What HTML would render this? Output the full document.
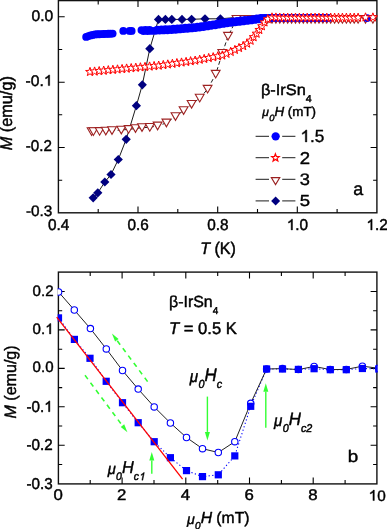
<!DOCTYPE html>
<html><head><meta charset="utf-8"><style>
html,body{margin:0;padding:0;background:#fff;}
body{width:387px;height:529px;overflow:hidden;font-family:"Liberation Sans", sans-serif;}
svg{display:block;will-change:transform;}
text{text-rendering:geometricPrecision;stroke:#000;stroke-width:0.45px;stroke-linejoin:round;}
tspan.g1{fill:none;stroke:none;}
</style></head><body>
<svg width="387" height="529" viewBox="0 0 387 529" font-family='"Liberation Sans", sans-serif' fill="#000">
<clipPath id="ct"><rect x="57.7" y="0" width="319.9" height="213.5"/></clipPath>
<clipPath id="cb"><rect x="57.7" y="271.4" width="319.9" height="213.2"/></clipPath>
<rect x="58.4" y="0.6" width="318.5" height="212.2" fill="none" stroke="#111" stroke-width="1.4"/>
<path d="M98.2 212.8v-3.8 M98.2 0.6v3.8" stroke="#000" stroke-width="1.1"/>
<path d="M138 212.8v-6.3 M138 0.6v6.3" stroke="#000" stroke-width="1.1"/>
<path d="M177.8 212.8v-3.8 M177.8 0.6v3.8" stroke="#000" stroke-width="1.1"/>
<path d="M217.7 212.8v-6.3 M217.7 0.6v6.3" stroke="#000" stroke-width="1.1"/>
<path d="M257.5 212.8v-3.8 M257.5 0.6v3.8" stroke="#000" stroke-width="1.1"/>
<path d="M297.3 212.8v-6.3 M297.3 0.6v6.3" stroke="#000" stroke-width="1.1"/>
<path d="M337.1 212.8v-3.8 M337.1 0.6v3.8" stroke="#000" stroke-width="1.1"/>
<path d="M58.4 16.8h6.3 M376.9 16.8h-6.3" stroke="#000" stroke-width="1.1"/>
<path d="M58.4 49.5h3.8 M376.9 49.5h-3.8" stroke="#000" stroke-width="1.1"/>
<path d="M58.4 82.2h6.3 M376.9 82.2h-6.3" stroke="#000" stroke-width="1.1"/>
<path d="M58.4 114.8h3.8 M376.9 114.8h-3.8" stroke="#000" stroke-width="1.1"/>
<path d="M58.4 147.5h6.3 M376.9 147.5h-6.3" stroke="#000" stroke-width="1.1"/>
<path d="M58.4 180.2h3.8 M376.9 180.2h-3.8" stroke="#000" stroke-width="1.1"/>
<path d="M255.6 136.4H269M282.2 136.4H295.4" stroke="#4a4a4a" stroke-width="1.2"/>
<path d="M255.6 157.7H269M282.2 157.7H295.4" stroke="#4a4a4a" stroke-width="1.2"/>
<path d="M255.6 179.4H269M282.2 179.4H295.4" stroke="#4a4a4a" stroke-width="1.2"/>
<path d="M255.6 200.9H269M282.2 200.9H295.4" stroke="#4a4a4a" stroke-width="1.2"/>
<circle cx="275.65" cy="136.35" r="4.15" fill="#0000ff"/>
<path d="M275.4 153.9L276.4 156.5L279.2 156.6L277.1 158.4L277.8 161L275.4 159.5L273.1 161L273.8 158.4L271.7 156.6L274.5 156.5Z" fill="#fff" stroke="#ff0000" stroke-width="1.25"/>
<path d="M271.3 177.6L279.8 177.6L275.55 184.6Z" fill="#fff" stroke="#9a2020" stroke-width="1.1"/>
<path d="M275.6 196.6L280.1 201.1L275.6 205.6L271.1 201.1Z" fill="#000080"/>
<rect x="58.4" y="272.1" width="318.5" height="211.8" fill="none" stroke="#111" stroke-width="1.4"/>
<path d="M90.2 483.9v-3.8 M90.2 272.1v3.8" stroke="#000" stroke-width="1.1"/>
<path d="M122.1 483.9v-6.3 M122.1 272.1v6.3" stroke="#000" stroke-width="1.1"/>
<path d="M154 483.9v-3.8 M154 272.1v3.8" stroke="#000" stroke-width="1.1"/>
<path d="M185.8 483.9v-6.3 M185.8 272.1v6.3" stroke="#000" stroke-width="1.1"/>
<path d="M217.7 483.9v-3.8 M217.7 272.1v3.8" stroke="#000" stroke-width="1.1"/>
<path d="M249.5 483.9v-6.3 M249.5 272.1v6.3" stroke="#000" stroke-width="1.1"/>
<path d="M281.4 483.9v-3.8 M281.4 272.1v3.8" stroke="#000" stroke-width="1.1"/>
<path d="M313.2 483.9v-6.3 M313.2 272.1v6.3" stroke="#000" stroke-width="1.1"/>
<path d="M345.1 483.9v-3.8 M345.1 272.1v3.8" stroke="#000" stroke-width="1.1"/>
<path d="M58.4 291.5h6.3 M376.9 291.5h-6.3" stroke="#000" stroke-width="1.1"/>
<path d="M58.4 310.7h3.8 M376.9 310.7h-3.8" stroke="#000" stroke-width="1.1"/>
<path d="M58.4 329.9h6.3 M376.9 329.9h-6.3" stroke="#000" stroke-width="1.1"/>
<path d="M58.4 349.2h3.8 M376.9 349.2h-3.8" stroke="#000" stroke-width="1.1"/>
<path d="M58.4 368.4h6.3 M376.9 368.4h-6.3" stroke="#000" stroke-width="1.1"/>
<path d="M58.4 387.6h3.8 M376.9 387.6h-3.8" stroke="#000" stroke-width="1.1"/>
<path d="M58.4 406.8h6.3 M376.9 406.8h-6.3" stroke="#000" stroke-width="1.1"/>
<path d="M58.4 426h3.8 M376.9 426h-3.8" stroke="#000" stroke-width="1.1"/>
<path d="M58.4 445.3h6.3 M376.9 445.3h-6.3" stroke="#000" stroke-width="1.1"/>
<path d="M58.4 464.5h3.8 M376.9 464.5h-3.8" stroke="#000" stroke-width="1.1"/>
<g clip-path="url(#ct)">
<polyline points="93.2,197.8 97.8,192.8 104.8,182 111,174.5 118.3,159.5 126.2,139.3 136.4,105.7 142.3,84.8 149.8,48.7 158.5,19.4 165.4,19.4 171.8,19.4 182,19.4 191.6,19.3 205,18.8 220.4,18.8 232,17.8 377,17.5" fill="none" stroke="#000" stroke-width="0.9"/>
<path d="M93.2 193.2L97.8 197.8L93.2 202.4L88.6 197.8Z" fill="#000080"/>
<path d="M97.8 188.2L102.4 192.8L97.8 197.4L93.2 192.8Z" fill="#000080"/>
<path d="M104.8 177.4L109.4 182L104.8 186.6L100.2 182Z" fill="#000080"/>
<path d="M111 169.9L115.6 174.5L111 179.1L106.4 174.5Z" fill="#000080"/>
<path d="M118.3 154.9L122.9 159.5L118.3 164.1L113.7 159.5Z" fill="#000080"/>
<path d="M126.2 134.7L130.8 139.3L126.2 143.9L121.6 139.3Z" fill="#000080"/>
<path d="M136.4 101.1L141 105.7L136.4 110.3L131.8 105.7Z" fill="#000080"/>
<path d="M142.3 80.2L146.9 84.8L142.3 89.4L137.8 84.8Z" fill="#000080"/>
<path d="M149.8 44.1L154.4 48.7L149.8 53.3L145.2 48.7Z" fill="#000080"/>
<path d="M158.5 14.8L163.1 19.4L158.5 24L153.9 19.4Z" fill="#000080"/>
<path d="M165.4 14.8L170 19.4L165.4 24L160.8 19.4Z" fill="#000080"/>
<path d="M171.8 14.8L176.4 19.4L171.8 24L167.2 19.4Z" fill="#000080"/>
<path d="M182 14.8L186.6 19.4L182 24L177.4 19.4Z" fill="#000080"/>
<path d="M191.6 14.7L196.2 19.3L191.6 23.9L187 19.3Z" fill="#000080"/>
<path d="M205 14.2L209.6 18.8L205 23.4L200.4 18.8Z" fill="#000080"/>
<path d="M220.4 14.2L225 18.8L220.4 23.4L215.8 18.8Z" fill="#000080"/>
<polyline points="91.6,131.7 93.4,131.7 99.6,131.4 105.8,131 112,130.5 121.3,130 128.6,129.4 135.5,128.5 142,127.6 149.8,127.3 157.6,125.9 166.4,122.9 175.5,116.5 183.6,110.5 191.6,104.3 199.7,98.1 207.6,89.2 215.7,74.2 222.3,53.4 228,36.2 236.5,19.4 244.5,19.3 252.5,19.3 377,19.3" fill="none" stroke="#000" stroke-width="0.9" stroke-dasharray="4 2.5"/>
<path d="M87.2 127.8L96 127.8L91.6 135.5Z" fill="#fff" stroke="#9e2222" stroke-width="1.1"/>
<path d="M89 127.8L97.8 127.8L93.4 135.5Z" fill="#fff" stroke="#9e2222" stroke-width="1.1"/>
<path d="M95.2 127.6L104 127.6L99.6 135.2Z" fill="#fff" stroke="#9e2222" stroke-width="1.1"/>
<path d="M101.4 127.2L110.2 127.2L105.8 134.8Z" fill="#fff" stroke="#9e2222" stroke-width="1.1"/>
<path d="M107.6 126.7L116.4 126.7L112 134.3Z" fill="#fff" stroke="#9e2222" stroke-width="1.1"/>
<path d="M116.9 126.2L125.7 126.2L121.3 133.8Z" fill="#fff" stroke="#9e2222" stroke-width="1.1"/>
<path d="M124.2 125.6L133 125.6L128.6 133.2Z" fill="#fff" stroke="#9e2222" stroke-width="1.1"/>
<path d="M131.1 124.7L139.9 124.7L135.5 132.3Z" fill="#fff" stroke="#9e2222" stroke-width="1.1"/>
<path d="M137.6 123.8L146.4 123.8L142 131.4Z" fill="#fff" stroke="#9e2222" stroke-width="1.1"/>
<path d="M145.4 123.5L154.2 123.5L149.8 131.2Z" fill="#fff" stroke="#9e2222" stroke-width="1.1"/>
<path d="M153.2 122.1L162 122.1L157.6 129.8Z" fill="#fff" stroke="#9e2222" stroke-width="1.1"/>
<path d="M162 119.1L170.8 119.1L166.4 126.8Z" fill="#fff" stroke="#9e2222" stroke-width="1.1"/>
<path d="M171.1 112.7L179.9 112.7L175.5 120.3Z" fill="#fff" stroke="#9e2222" stroke-width="1.1"/>
<path d="M179.2 106.7L188 106.7L183.6 114.3Z" fill="#fff" stroke="#9e2222" stroke-width="1.1"/>
<path d="M187.2 100.5L196 100.5L191.6 108.1Z" fill="#fff" stroke="#9e2222" stroke-width="1.1"/>
<path d="M195.3 94.2L204.1 94.2L199.7 101.9Z" fill="#fff" stroke="#9e2222" stroke-width="1.1"/>
<path d="M203.2 85.4L212 85.4L207.6 93Z" fill="#fff" stroke="#9e2222" stroke-width="1.1"/>
<path d="M211.3 70.4L220.1 70.4L215.7 78Z" fill="#fff" stroke="#9e2222" stroke-width="1.1"/>
<path d="M217.9 49.5L226.7 49.5L222.3 57.2Z" fill="#fff" stroke="#9e2222" stroke-width="1.1"/>
<path d="M223.6 32.4L232.4 32.4L228 40.1Z" fill="#fff" stroke="#9e2222" stroke-width="1.1"/>
<path d="M232.1 15.5L240.9 15.5L236.5 23.2Z" fill="#fff" stroke="#9e2222" stroke-width="1.1"/>
<path d="M240.1 15.5L248.9 15.5L244.5 23.2Z" fill="#fff" stroke="#9e2222" stroke-width="1.1"/>
<path d="M248.1 15.5L256.9 15.5L252.5 23.2Z" fill="#fff" stroke="#9e2222" stroke-width="1.1"/>
<path d="M260.1 15.5L268.9 15.5L264.5 23.2Z" fill="#fff" stroke="#9e2222" stroke-width="1.1"/>
<path d="M263.3 15.5L272.1 15.5L267.7 23.2Z" fill="#fff" stroke="#9e2222" stroke-width="1.1"/>
<path d="M267.6 15.5L276.4 15.5L272 23.2Z" fill="#fff" stroke="#9e2222" stroke-width="1.1"/>
<path d="M271.5 15.5L280.3 15.5L275.9 23.2Z" fill="#fff" stroke="#9e2222" stroke-width="1.1"/>
<path d="M275.4 15.5L284.2 15.5L279.8 23.2Z" fill="#fff" stroke="#9e2222" stroke-width="1.1"/>
<path d="M279.3 15.5L288.1 15.5L283.7 23.2Z" fill="#fff" stroke="#9e2222" stroke-width="1.1"/>
<path d="M283.3 15.5L292.1 15.5L287.7 23.2Z" fill="#fff" stroke="#9e2222" stroke-width="1.1"/>
<path d="M287.2 15.5L296 15.5L291.6 23.2Z" fill="#fff" stroke="#9e2222" stroke-width="1.1"/>
<path d="M291.1 15.5L299.9 15.5L295.5 23.2Z" fill="#fff" stroke="#9e2222" stroke-width="1.1"/>
<path d="M295 15.5L303.8 15.5L299.4 23.2Z" fill="#fff" stroke="#9e2222" stroke-width="1.1"/>
<path d="M298.9 15.5L307.7 15.5L303.3 23.2Z" fill="#fff" stroke="#9e2222" stroke-width="1.1"/>
<path d="M302.8 15.5L311.6 15.5L307.2 23.2Z" fill="#fff" stroke="#9e2222" stroke-width="1.1"/>
<path d="M306.7 15.5L315.5 15.5L311.1 23.2Z" fill="#fff" stroke="#9e2222" stroke-width="1.1"/>
<path d="M310.7 15.5L319.4 15.5L315.1 23.2Z" fill="#fff" stroke="#9e2222" stroke-width="1.1"/>
<path d="M314.6 15.5L323.4 15.5L319 23.2Z" fill="#fff" stroke="#9e2222" stroke-width="1.1"/>
<path d="M318.5 15.5L327.3 15.5L322.9 23.2Z" fill="#fff" stroke="#9e2222" stroke-width="1.1"/>
<path d="M322.4 15.5L331.2 15.5L326.8 23.2Z" fill="#fff" stroke="#9e2222" stroke-width="1.1"/>
<path d="M326.3 15.5L335.1 15.5L330.7 23.2Z" fill="#fff" stroke="#9e2222" stroke-width="1.1"/>
<path d="M330.2 15.5L339 15.5L334.6 23.2Z" fill="#fff" stroke="#9e2222" stroke-width="1.1"/>
<path d="M334.1 15.5L342.9 15.5L338.5 23.2Z" fill="#fff" stroke="#9e2222" stroke-width="1.1"/>
<path d="M338 15.5L346.8 15.5L342.4 23.2Z" fill="#fff" stroke="#9e2222" stroke-width="1.1"/>
<path d="M342 15.5L350.8 15.5L346.4 23.2Z" fill="#fff" stroke="#9e2222" stroke-width="1.1"/>
<path d="M345.9 15.5L354.7 15.5L350.3 23.2Z" fill="#fff" stroke="#9e2222" stroke-width="1.1"/>
<path d="M349.8 15.5L358.6 15.5L354.2 23.2Z" fill="#fff" stroke="#9e2222" stroke-width="1.1"/>
<path d="M353.7 15.5L362.5 15.5L358.1 23.2Z" fill="#fff" stroke="#9e2222" stroke-width="1.1"/>
<path d="M361.1 15.5L369.9 15.5L365.5 23.2Z" fill="#fff" stroke="#9e2222" stroke-width="1.1"/>
<path d="M368.5 15.5L377.3 15.5L372.9 23.2Z" fill="#fff" stroke="#9e2222" stroke-width="1.1"/>
<circle cx="86.2" cy="36.9" r="3.95" fill="#0000ff"/>
<circle cx="88.4" cy="36.1" r="3.95" fill="#0000ff"/>
<circle cx="90.6" cy="35.4" r="3.95" fill="#0000ff"/>
<circle cx="92.8" cy="34.9" r="3.95" fill="#0000ff"/>
<circle cx="95" cy="34.4" r="3.95" fill="#0000ff"/>
<circle cx="97.2" cy="34.3" r="3.95" fill="#0000ff"/>
<circle cx="99.4" cy="34.2" r="3.95" fill="#0000ff"/>
<circle cx="101.6" cy="34.1" r="3.95" fill="#0000ff"/>
<circle cx="103.8" cy="34" r="3.95" fill="#0000ff"/>
<circle cx="106" cy="33.9" r="3.95" fill="#0000ff"/>
<circle cx="108.2" cy="33.8" r="3.95" fill="#0000ff"/>
<circle cx="110.4" cy="33.7" r="3.95" fill="#0000ff"/>
<circle cx="112.6" cy="33.6" r="3.95" fill="#0000ff"/>
<circle cx="123.3" cy="30.9" r="3.95" fill="#0000ff"/>
<circle cx="129.6" cy="30.9" r="3.95" fill="#0000ff"/>
<circle cx="131.6" cy="30.9" r="3.95" fill="#0000ff"/>
<circle cx="141.5" cy="30.1" r="3.95" fill="#0000ff"/>
<circle cx="143.5" cy="31.1" r="3.95" fill="#0000ff"/>
<circle cx="145.5" cy="30" r="3.95" fill="#0000ff"/>
<circle cx="147.5" cy="31" r="3.95" fill="#0000ff"/>
<circle cx="149.5" cy="29.9" r="3.95" fill="#0000ff"/>
<circle cx="151.5" cy="30.9" r="3.95" fill="#0000ff"/>
<circle cx="155.5" cy="30.7" r="3.95" fill="#0000ff"/>
<circle cx="157.5" cy="29.6" r="3.95" fill="#0000ff"/>
<circle cx="159.5" cy="30.6" r="3.95" fill="#0000ff"/>
<circle cx="161.5" cy="29.4" r="3.95" fill="#0000ff"/>
<circle cx="163.5" cy="30.4" r="3.95" fill="#0000ff"/>
<circle cx="165.5" cy="29.2" r="3.95" fill="#0000ff"/>
<circle cx="167.5" cy="30.3" r="3.95" fill="#0000ff"/>
<circle cx="169.5" cy="29.1" r="3.95" fill="#0000ff"/>
<circle cx="171.5" cy="30" r="3.95" fill="#0000ff"/>
<circle cx="173.5" cy="28.8" r="3.95" fill="#0000ff"/>
<circle cx="175.5" cy="29.7" r="3.95" fill="#0000ff"/>
<circle cx="177.5" cy="28.5" r="3.95" fill="#0000ff"/>
<circle cx="179.5" cy="29.4" r="3.95" fill="#0000ff"/>
<circle cx="181.4" cy="28.1" r="3.95" fill="#0000ff"/>
<circle cx="183.4" cy="29.1" r="3.95" fill="#0000ff"/>
<circle cx="185.4" cy="27.8" r="3.95" fill="#0000ff"/>
<circle cx="187.4" cy="28.8" r="3.95" fill="#0000ff"/>
<circle cx="189.4" cy="27.5" r="3.95" fill="#0000ff"/>
<circle cx="191.4" cy="28.4" r="3.95" fill="#0000ff"/>
<circle cx="193.4" cy="27.2" r="3.95" fill="#0000ff"/>
<circle cx="195.4" cy="28.1" r="3.95" fill="#0000ff"/>
<circle cx="197.4" cy="26.8" r="3.95" fill="#0000ff"/>
<circle cx="199.4" cy="27.6" r="3.95" fill="#0000ff"/>
<circle cx="201.3" cy="26.2" r="3.95" fill="#0000ff"/>
<circle cx="203.3" cy="27" r="3.95" fill="#0000ff"/>
<circle cx="205.3" cy="25.6" r="3.95" fill="#0000ff"/>
<circle cx="207.3" cy="26.4" r="3.95" fill="#0000ff"/>
<circle cx="209.3" cy="25" r="3.95" fill="#0000ff"/>
<circle cx="211.2" cy="25.8" r="3.95" fill="#0000ff"/>
<circle cx="213.2" cy="24.4" r="3.95" fill="#0000ff"/>
<circle cx="215.2" cy="25.2" r="3.95" fill="#0000ff"/>
<circle cx="217.2" cy="23.8" r="3.95" fill="#0000ff"/>
<circle cx="219.1" cy="24.5" r="3.95" fill="#0000ff"/>
<circle cx="221.1" cy="23.1" r="3.95" fill="#0000ff"/>
<circle cx="223.1" cy="23.9" r="3.95" fill="#0000ff"/>
<circle cx="225.1" cy="22.5" r="3.95" fill="#0000ff"/>
<circle cx="227" cy="23.3" r="3.95" fill="#0000ff"/>
<circle cx="229" cy="21.9" r="3.95" fill="#0000ff"/>
<circle cx="231" cy="22.8" r="3.95" fill="#0000ff"/>
<circle cx="233" cy="21.5" r="3.95" fill="#0000ff"/>
<circle cx="235" cy="22.3" r="3.95" fill="#0000ff"/>
<circle cx="237" cy="21" r="3.95" fill="#0000ff"/>
<circle cx="238.9" cy="21.9" r="3.95" fill="#0000ff"/>
<circle cx="240.9" cy="20.5" r="3.95" fill="#0000ff"/>
<circle cx="242.9" cy="21.4" r="3.95" fill="#0000ff"/>
<circle cx="244.9" cy="20" r="3.95" fill="#0000ff"/>
<circle cx="246.9" cy="20.9" r="3.95" fill="#0000ff"/>
<circle cx="248.9" cy="19.6" r="3.95" fill="#0000ff"/>
<circle cx="250.9" cy="20.4" r="3.95" fill="#0000ff"/>
<circle cx="252.8" cy="19.1" r="3.95" fill="#0000ff"/>
<circle cx="254.8" cy="19.9" r="3.95" fill="#0000ff"/>
<circle cx="256.8" cy="18.5" r="3.95" fill="#0000ff"/>
<circle cx="258.8" cy="19.3" r="3.95" fill="#0000ff"/>
<circle cx="260.8" cy="17.9" r="3.95" fill="#0000ff"/>
<circle cx="262.7" cy="18.2" r="3.95" fill="#0000ff"/>
<circle cx="264.7" cy="17.9" r="3.95" fill="#0000ff"/>
<circle cx="266.7" cy="17.9" r="3.95" fill="#0000ff"/>
<circle cx="268.7" cy="17.9" r="3.95" fill="#0000ff"/>
<circle cx="270.7" cy="17.9" r="3.95" fill="#0000ff"/>
<circle cx="272.7" cy="17.9" r="3.95" fill="#0000ff"/>
<circle cx="274.7" cy="17.9" r="3.95" fill="#0000ff"/>
<circle cx="276.7" cy="17.9" r="3.95" fill="#0000ff"/>
<circle cx="278.7" cy="17.9" r="3.95" fill="#0000ff"/>
<circle cx="280.7" cy="17.9" r="3.95" fill="#0000ff"/>
<circle cx="282.7" cy="17.9" r="3.95" fill="#0000ff"/>
<circle cx="284.7" cy="17.9" r="3.95" fill="#0000ff"/>
<circle cx="286.7" cy="17.9" r="3.95" fill="#0000ff"/>
<circle cx="288.7" cy="17.9" r="3.95" fill="#0000ff"/>
<circle cx="290.7" cy="17.9" r="3.95" fill="#0000ff"/>
<circle cx="292.7" cy="17.9" r="3.95" fill="#0000ff"/>
<circle cx="294.7" cy="17.9" r="3.95" fill="#0000ff"/>
<circle cx="296.7" cy="17.9" r="3.95" fill="#0000ff"/>
<circle cx="298.7" cy="17.9" r="3.95" fill="#0000ff"/>
<circle cx="300.7" cy="17.9" r="3.95" fill="#0000ff"/>
<circle cx="302.7" cy="17.9" r="3.95" fill="#0000ff"/>
<circle cx="304.7" cy="17.9" r="3.95" fill="#0000ff"/>
<circle cx="306.7" cy="17.9" r="3.95" fill="#0000ff"/>
<circle cx="308.7" cy="17.9" r="3.95" fill="#0000ff"/>
<circle cx="310.7" cy="17.9" r="3.95" fill="#0000ff"/>
<circle cx="312.7" cy="17.9" r="3.95" fill="#0000ff"/>
<circle cx="314.7" cy="17.9" r="3.95" fill="#0000ff"/>
<circle cx="316.7" cy="17.9" r="3.95" fill="#0000ff"/>
<circle cx="318.7" cy="17.9" r="3.95" fill="#0000ff"/>
<circle cx="320.7" cy="17.9" r="3.95" fill="#0000ff"/>
<circle cx="322.7" cy="17.9" r="3.95" fill="#0000ff"/>
<circle cx="324.7" cy="17.9" r="3.95" fill="#0000ff"/>
<circle cx="326.7" cy="17.9" r="3.95" fill="#0000ff"/>
<circle cx="328.7" cy="17.9" r="3.95" fill="#0000ff"/>
<circle cx="367.1" cy="18.1" r="3.95" fill="#0000ff"/>
<path d="M90 67.3L91.1 70.4L94.4 70.5L91.8 72.5L92.7 75.6L90 73.8L87.3 75.6L88.2 72.5L85.6 70.5L88.9 70.4Z" fill="#fff" stroke="#ff0000" stroke-width="1"/>
<path d="M94.6 66.9L95.7 69.9L99 70.1L96.4 72.1L97.3 75.2L94.6 73.4L91.9 75.2L92.8 72.1L90.2 70.1L93.5 69.9Z" fill="#fff" stroke="#ff0000" stroke-width="1"/>
<path d="M99.2 66.5L100.3 69.5L103.5 69.6L101 71.6L101.9 74.8L99.2 73L96.5 74.8L97.4 71.6L94.8 69.6L98 69.5Z" fill="#fff" stroke="#ff0000" stroke-width="1"/>
<path d="M103.7 66L104.9 69.1L108.1 69.2L105.5 71.2L106.4 74.4L103.7 72.5L101 74.4L101.9 71.2L99.4 69.2L102.6 69.1Z" fill="#fff" stroke="#ff0000" stroke-width="1"/>
<path d="M108.3 65.6L109.4 68.7L112.7 68.8L110.1 70.8L111 73.9L108.3 72.1L105.6 73.9L106.5 70.8L103.9 68.8L107.2 68.7Z" fill="#fff" stroke="#ff0000" stroke-width="1"/>
<path d="M112.9 65.2L114 68.3L117.3 68.4L114.7 70.4L115.6 73.5L112.9 71.7L110.2 73.5L111.1 70.4L108.5 68.4L111.8 68.3Z" fill="#fff" stroke="#ff0000" stroke-width="1"/>
<path d="M117.5 64.8L118.6 67.8L121.9 68L119.3 70L120.2 73.1L117.5 71.3L114.8 73.1L115.7 70L113.1 68L116.4 67.8Z" fill="#fff" stroke="#ff0000" stroke-width="1"/>
<path d="M122.1 64.4L123.2 67.4L126.4 67.5L123.9 69.6L124.8 72.7L122.1 70.9L119.4 72.7L120.3 69.6L117.7 67.5L120.9 67.4Z" fill="#fff" stroke="#ff0000" stroke-width="1"/>
<path d="M126.6 63.9L127.8 67L131 67.1L128.5 69.1L129.4 72.3L126.6 70.4L123.9 72.3L124.8 69.1L122.3 67.1L125.5 67Z" fill="#fff" stroke="#ff0000" stroke-width="1"/>
<path d="M131.2 63.5L132.3 66.6L135.6 66.7L133 68.7L133.9 71.9L131.2 70L128.5 71.9L129.4 68.7L126.9 66.7L130.1 66.6Z" fill="#fff" stroke="#ff0000" stroke-width="1"/>
<path d="M135.8 63.1L136.9 66.2L140.2 66.3L137.6 68.3L138.5 71.4L135.8 69.6L133.1 71.4L134 68.3L131.4 66.3L134.7 66.2Z" fill="#fff" stroke="#ff0000" stroke-width="1"/>
<path d="M140.4 62.7L141.5 65.8L144.8 65.9L142.2 67.9L143.1 71L140.4 69.2L137.7 71L138.6 67.9L136 65.9L139.3 65.8Z" fill="#fff" stroke="#ff0000" stroke-width="1"/>
<path d="M145 62.3L146.1 65.3L149.3 65.5L146.8 67.5L147.7 70.6L145 68.8L142.3 70.6L143.2 67.5L140.6 65.5L143.9 65.3Z" fill="#fff" stroke="#ff0000" stroke-width="1"/>
<path d="M149.6 61.9L150.7 64.9L153.9 65L151.4 67L152.3 70.2L149.6 68.4L146.8 70.2L147.7 67L145.2 65L148.4 64.9Z" fill="#fff" stroke="#ff0000" stroke-width="1"/>
<path d="M154.1 61.4L155.2 64.5L158.5 64.6L155.9 66.6L156.8 69.8L154.1 67.9L151.4 69.8L152.3 66.6L149.8 64.6L153 64.5Z" fill="#fff" stroke="#ff0000" stroke-width="1"/>
<path d="M158.7 61L159.8 64.1L163.1 64.2L160.5 66.2L161.4 69.3L158.7 67.5L156 69.3L156.9 66.2L154.3 64.2L157.6 64.1Z" fill="#fff" stroke="#ff0000" stroke-width="1"/>
<path d="M163.3 60.4L164.4 63.5L167.7 63.6L165.1 65.6L166 68.8L163.3 66.9L160.6 68.8L161.5 65.6L158.9 63.6L162.2 63.5Z" fill="#fff" stroke="#ff0000" stroke-width="1"/>
<path d="M167.8 59.8L168.9 62.9L172.2 63L169.6 65L170.5 68.1L167.8 66.3L165.1 68.1L166 65L163.5 63L166.7 62.9Z" fill="#fff" stroke="#ff0000" stroke-width="1"/>
<path d="M172.4 59.2L173.5 62.2L176.8 62.3L174.2 64.4L175.1 67.5L172.4 65.7L169.7 67.5L170.6 64.4L168 62.3L171.3 62.2Z" fill="#fff" stroke="#ff0000" stroke-width="1"/>
<path d="M176.9 58.5L178.1 61.6L181.3 61.7L178.7 63.7L179.6 66.8L176.9 65L174.2 66.8L175.1 63.7L172.6 61.7L175.8 61.6Z" fill="#fff" stroke="#ff0000" stroke-width="1"/>
<path d="M181.5 57.9L182.6 61L185.9 61.1L183.3 63.1L184.2 66.2L181.5 64.4L178.8 66.2L179.7 63.1L177.1 61.1L180.4 61Z" fill="#fff" stroke="#ff0000" stroke-width="1"/>
<path d="M186.1 57.3L187.2 60.3L190.4 60.4L187.9 62.4L188.8 65.6L186.1 63.8L183.4 65.6L184.2 62.4L181.7 60.4L184.9 60.3Z" fill="#fff" stroke="#ff0000" stroke-width="1"/>
<path d="M190.6 56.6L191.7 59.7L195 59.8L192.4 61.8L193.3 64.9L190.6 63.1L187.9 64.9L188.8 61.8L186.2 59.8L189.5 59.7Z" fill="#fff" stroke="#ff0000" stroke-width="1"/>
<path d="M195.2 56L196.3 59L199.5 59.1L197 61.2L197.9 64.3L195.2 62.5L192.5 64.3L193.4 61.2L190.8 59.1L194 59Z" fill="#fff" stroke="#ff0000" stroke-width="1"/>
<path d="M199.7 55.1L200.8 58.2L204.1 58.3L201.5 60.3L202.4 63.4L199.7 61.6L197 63.4L197.9 60.3L195.3 58.3L198.6 58.2Z" fill="#fff" stroke="#ff0000" stroke-width="1"/>
<path d="M204.2 54.3L205.3 57.3L208.6 57.4L206 59.4L206.9 62.6L204.2 60.8L201.5 62.6L202.4 59.4L199.8 57.4L203.1 57.3Z" fill="#fff" stroke="#ff0000" stroke-width="1"/>
<path d="M208.7 53.4L209.8 56.5L213.1 56.6L210.5 58.6L211.4 61.7L208.7 59.9L206 61.7L206.9 58.6L204.3 56.6L207.6 56.5Z" fill="#fff" stroke="#ff0000" stroke-width="1"/>
<path d="M213.2 52.6L214.4 55.6L217.6 55.7L215.1 57.7L215.9 60.9L213.2 59.1L210.5 60.9L211.4 57.7L208.9 55.7L212.1 55.6Z" fill="#fff" stroke="#ff0000" stroke-width="1"/>
<path d="M217.8 51.7L218.9 54.8L222.1 54.9L219.6 56.9L220.5 60L217.8 58.2L215.1 60L216 56.9L213.4 54.9L216.6 54.8Z" fill="#fff" stroke="#ff0000" stroke-width="1"/>
<path d="M222.3 50.8L223.4 53.9L226.7 54L224.1 56L225 59.2L222.3 57.3L219.6 59.2L220.5 56L217.9 54L221.2 53.9Z" fill="#fff" stroke="#ff0000" stroke-width="1"/>
<path d="M226.5 49.1L227.6 52.2L230.9 52.3L228.3 54.3L229.2 57.5L226.5 55.6L223.8 57.5L224.7 54.3L222.1 52.3L225.4 52.2Z" fill="#fff" stroke="#ff0000" stroke-width="1"/>
<path d="M230.7 47.2L231.8 50.3L235.1 50.4L232.5 52.4L233.4 55.6L230.7 53.7L228 55.6L228.9 52.4L226.3 50.4L229.6 50.3Z" fill="#fff" stroke="#ff0000" stroke-width="1"/>
<path d="M234.9 45.3L236 48.4L239.3 48.5L236.7 50.5L237.6 53.6L234.9 51.8L232.2 53.6L233.1 50.5L230.5 48.5L233.8 48.4Z" fill="#fff" stroke="#ff0000" stroke-width="1"/>
<path d="M239 43.4L240.2 46.4L243.4 46.6L240.9 48.6L241.7 51.7L239 49.9L236.3 51.7L237.2 48.6L234.7 46.6L237.9 46.4Z" fill="#fff" stroke="#ff0000" stroke-width="1"/>
<path d="M243.2 41.5L244.3 44.5L247.6 44.7L245 46.7L245.9 49.8L243.2 48L240.5 49.8L241.4 46.7L238.9 44.7L242.1 44.5Z" fill="#fff" stroke="#ff0000" stroke-width="1"/>
<path d="M247.1 39L248.2 42L251.5 42.2L248.9 44.2L249.8 47.3L247.1 45.5L244.4 47.3L245.3 44.2L242.7 42.2L246 42Z" fill="#fff" stroke="#ff0000" stroke-width="1"/>
<path d="M250.6 36.1L251.7 39.1L255 39.2L252.4 41.3L253.3 44.4L250.6 42.6L247.9 44.4L248.8 41.3L246.2 39.2L249.5 39.1Z" fill="#fff" stroke="#ff0000" stroke-width="1"/>
<path d="M253.6 32.6L254.7 35.6L258 35.7L255.4 37.7L256.3 40.9L253.6 39.1L250.9 40.9L251.8 37.7L249.2 35.7L252.5 35.6Z" fill="#fff" stroke="#ff0000" stroke-width="1"/>
<path d="M256.6 29.1L257.7 32.1L260.9 32.2L258.4 34.2L259.3 37.4L256.6 35.6L253.9 37.4L254.8 34.2L252.2 32.2L255.5 32.1Z" fill="#fff" stroke="#ff0000" stroke-width="1"/>
<path d="M259.3 25.3L260.4 28.4L263.7 28.5L261.1 30.5L262 33.7L259.3 31.8L256.6 33.7L257.5 30.5L254.9 28.5L258.2 28.4Z" fill="#fff" stroke="#ff0000" stroke-width="1"/>
<path d="M261.9 21.6L263 24.6L266.3 24.8L263.7 26.8L264.6 29.9L261.9 28.1L259.2 29.9L260.1 26.8L257.6 24.8L260.8 24.6Z" fill="#fff" stroke="#ff0000" stroke-width="1"/>
<path d="M264.5 17.8L265.6 20.8L268.8 20.9L266.3 22.9L267.2 26.1L264.5 24.3L261.8 26.1L262.7 22.9L260.1 20.9L263.4 20.8Z" fill="#fff" stroke="#ff0000" stroke-width="1"/>
<path d="M267.7 14.5L268.9 17.6L272.1 17.7L269.5 19.7L270.4 22.9L267.7 21L265 22.9L265.9 19.7L263.4 17.7L266.6 17.6Z" fill="#fff" stroke="#ff0000" stroke-width="1"/>
<path d="M272 12.8L273.1 15.9L276.4 16L273.8 18L274.7 21.2L272 19.3L269.3 21.2L270.2 18L267.6 16L270.9 15.9Z" fill="#fff" stroke="#ff0000" stroke-width="1"/>
<path d="M275.9 12.9L277 16L280.3 16.1L277.7 18.1L278.6 21.3L275.9 19.4L273.2 21.3L274.1 18.1L271.5 16.1L274.8 16Z" fill="#fff" stroke="#ff0000" stroke-width="1"/>
<path d="M279.8 13.1L280.9 16.2L284.2 16.3L281.6 18.3L282.5 21.4L279.8 19.6L277.1 21.4L278 18.3L275.5 16.3L278.7 16.2Z" fill="#fff" stroke="#ff0000" stroke-width="1"/>
<path d="M283.7 13.1L284.9 16.2L288.1 16.3L285.5 18.3L286.4 21.4L283.7 19.6L281 21.4L281.9 18.3L279.4 16.3L282.6 16.2Z" fill="#fff" stroke="#ff0000" stroke-width="1"/>
<path d="M287.7 13.1L288.8 16.2L292 16.3L289.5 18.3L290.4 21.4L287.7 19.6L285 21.4L285.8 18.3L283.3 16.3L286.5 16.2Z" fill="#fff" stroke="#ff0000" stroke-width="1"/>
<path d="M291.6 13.1L292.7 16.2L295.9 16.3L293.4 18.3L294.3 21.4L291.6 19.6L288.9 21.4L289.8 18.3L287.2 16.3L290.5 16.2Z" fill="#fff" stroke="#ff0000" stroke-width="1"/>
<path d="M295.5 13.1L296.6 16.2L299.9 16.3L297.3 18.3L298.2 21.4L295.5 19.6L292.8 21.4L293.7 18.3L291.1 16.3L294.4 16.2Z" fill="#fff" stroke="#ff0000" stroke-width="1"/>
<path d="M299.4 13.1L300.5 16.2L303.8 16.3L301.2 18.3L302.1 21.4L299.4 19.6L296.7 21.4L297.6 18.3L295 16.3L298.3 16.2Z" fill="#fff" stroke="#ff0000" stroke-width="1"/>
<path d="M303.3 13.1L304.4 16.2L307.7 16.3L305.1 18.3L306 21.4L303.3 19.6L300.6 21.4L301.5 18.3L298.9 16.3L302.2 16.2Z" fill="#fff" stroke="#ff0000" stroke-width="1"/>
<path d="M307.2 13.1L308.3 16.2L311.6 16.3L309 18.3L309.9 21.4L307.2 19.6L304.5 21.4L305.4 18.3L302.8 16.3L306.1 16.2Z" fill="#fff" stroke="#ff0000" stroke-width="1"/>
<path d="M311.1 13.1L312.3 16.2L315.5 16.3L312.9 18.3L313.8 21.4L311.1 19.6L308.4 21.4L309.3 18.3L306.8 16.3L310 16.2Z" fill="#fff" stroke="#ff0000" stroke-width="1"/>
<path d="M315.1 13.1L316.2 16.2L319.4 16.3L316.9 18.3L317.8 21.4L315.1 19.6L312.3 21.4L313.2 18.3L310.7 16.3L313.9 16.2Z" fill="#fff" stroke="#ff0000" stroke-width="1"/>
<path d="M319 13.1L320.1 16.2L323.3 16.3L320.8 18.3L321.7 21.4L319 19.6L316.3 21.4L317.2 18.3L314.6 16.3L317.8 16.2Z" fill="#fff" stroke="#ff0000" stroke-width="1"/>
<path d="M322.9 13.1L324 16.2L327.3 16.3L324.7 18.3L325.6 21.4L322.9 19.6L320.2 21.4L321.1 18.3L318.5 16.3L321.8 16.2Z" fill="#fff" stroke="#ff0000" stroke-width="1"/>
<path d="M326.8 13.1L327.9 16.2L331.2 16.3L328.6 18.3L329.5 21.4L326.8 19.6L324.1 21.4L325 18.3L322.4 16.3L325.7 16.2Z" fill="#fff" stroke="#ff0000" stroke-width="1"/>
<path d="M330.7 13.1L331.8 16.2L335.1 16.3L332.5 18.3L333.4 21.4L330.7 19.6L328 21.4L328.9 18.3L326.3 16.3L329.6 16.2Z" fill="#fff" stroke="#ff0000" stroke-width="1"/>
<path d="M334.6 13.1L335.7 16.2L339 16.3L336.4 18.3L337.3 21.4L334.6 19.6L331.9 21.4L332.8 18.3L330.2 16.3L333.5 16.2Z" fill="#fff" stroke="#ff0000" stroke-width="1"/>
<path d="M338.5 13.1L339.6 16.2L342.9 16.3L340.3 18.3L341.2 21.4L338.5 19.6L335.8 21.4L336.7 18.3L334.2 16.3L337.4 16.2Z" fill="#fff" stroke="#ff0000" stroke-width="1"/>
<path d="M342.4 13.1L343.6 16.2L346.8 16.3L344.3 18.3L345.1 21.4L342.4 19.6L339.7 21.4L340.6 18.3L338.1 16.3L341.3 16.2Z" fill="#fff" stroke="#ff0000" stroke-width="1"/>
<path d="M346.4 13.1L347.5 16.2L350.7 16.3L348.2 18.3L349.1 21.4L346.4 19.6L343.7 21.4L344.6 18.3L342 16.3L345.2 16.2Z" fill="#fff" stroke="#ff0000" stroke-width="1"/>
<path d="M350.3 13.1L351.4 16.2L354.6 16.3L352.1 18.3L353 21.4L350.3 19.6L347.6 21.4L348.5 18.3L345.9 16.3L349.2 16.2Z" fill="#fff" stroke="#ff0000" stroke-width="1"/>
<path d="M354.2 13.1L355.3 16.2L358.6 16.3L356 18.3L356.9 21.4L354.2 19.6L351.5 21.4L352.4 18.3L349.8 16.3L353.1 16.2Z" fill="#fff" stroke="#ff0000" stroke-width="1"/>
<path d="M358.1 13.1L359.2 16.2L362.5 16.3L359.9 18.3L360.8 21.4L358.1 19.6L355.4 21.4L356.3 18.3L353.7 16.3L357 16.2Z" fill="#fff" stroke="#ff0000" stroke-width="1"/>
<path d="M365.5 12.8L366.6 15.9L369.9 16L367.3 18L368.2 21.1L365.5 19.3L362.8 21.1L363.7 18L361.1 16L364.4 15.9Z" fill="#fff" stroke="#ff0000" stroke-width="1"/>
<path d="M372.9 12.8L374 15.9L377.3 16L374.7 18L375.6 21.1L372.9 19.3L370.2 21.1L371.1 18L368.5 16L371.8 15.9Z" fill="#fff" stroke="#ff0000" stroke-width="1"/>
</g>
<g clip-path="url(#cb)">
<polyline points="58.5,317.9 74.4,339.4 90,358.3 106.2,381.3 122.5,402.7 138.2,422.7 154.2,441.7 170.4,457.7 186.5,470.6 202.5,476.6 218.3,474.8 234.8,455.9 250.7,406.3 266.6,369 282.5,369 298.4,369.4 314.1,368.7 330.3,369.7 346.3,369.7 362.4,368.5 378.8,369" fill="none" stroke="#0000ff" stroke-width="1.1" stroke-dasharray="1.2 2.4"/>
<polyline points="58.6,292 74.3,310 90.4,328.6 106.3,348.9 122.5,370.5 138.2,389.1 154.2,406.9 170.4,423 186.5,437.5 202.5,448.7 218.3,452.5 234.8,441.7 250.7,403.3 266.6,369 282.5,368.6 298.4,369.6 314.1,366.4 330.2,369.6 346.3,369.4 362.4,366.2 378.8,368.3" fill="none" stroke="#222" stroke-width="1"/>
<circle cx="58.6" cy="292" r="3.2" fill="#fff" stroke="#0000ff" stroke-width="1.1"/>
<circle cx="74.3" cy="310" r="3.2" fill="#fff" stroke="#0000ff" stroke-width="1.1"/>
<circle cx="90.4" cy="328.6" r="3.2" fill="#fff" stroke="#0000ff" stroke-width="1.1"/>
<circle cx="106.3" cy="348.9" r="3.2" fill="#fff" stroke="#0000ff" stroke-width="1.1"/>
<circle cx="122.5" cy="370.5" r="3.2" fill="#fff" stroke="#0000ff" stroke-width="1.1"/>
<circle cx="138.2" cy="389.1" r="3.2" fill="#fff" stroke="#0000ff" stroke-width="1.1"/>
<circle cx="154.2" cy="406.9" r="3.2" fill="#fff" stroke="#0000ff" stroke-width="1.1"/>
<circle cx="170.4" cy="423" r="3.2" fill="#fff" stroke="#0000ff" stroke-width="1.1"/>
<circle cx="186.5" cy="437.5" r="3.2" fill="#fff" stroke="#0000ff" stroke-width="1.1"/>
<circle cx="202.5" cy="448.7" r="3.2" fill="#fff" stroke="#0000ff" stroke-width="1.1"/>
<circle cx="218.3" cy="452.5" r="3.2" fill="#fff" stroke="#0000ff" stroke-width="1.1"/>
<circle cx="234.8" cy="441.7" r="3.2" fill="#fff" stroke="#0000ff" stroke-width="1.1"/>
<circle cx="250.7" cy="403.3" r="3.2" fill="#fff" stroke="#0000ff" stroke-width="1.1"/>
<circle cx="266.6" cy="369" r="3.2" fill="#fff" stroke="#0000ff" stroke-width="1.1"/>
<circle cx="282.5" cy="368.6" r="3.2" fill="#fff" stroke="#0000ff" stroke-width="1.1"/>
<circle cx="298.4" cy="369.6" r="3.2" fill="#fff" stroke="#0000ff" stroke-width="1.1"/>
<circle cx="314.1" cy="366.4" r="3.2" fill="#fff" stroke="#0000ff" stroke-width="1.1"/>
<circle cx="330.2" cy="369.6" r="3.2" fill="#fff" stroke="#0000ff" stroke-width="1.1"/>
<circle cx="346.3" cy="369.4" r="3.2" fill="#fff" stroke="#0000ff" stroke-width="1.1"/>
<circle cx="362.4" cy="366.2" r="3.2" fill="#fff" stroke="#0000ff" stroke-width="1.1"/>
<circle cx="378.8" cy="368.3" r="3.2" fill="#fff" stroke="#0000ff" stroke-width="1.1"/>
<rect x="54.9" y="314.3" width="7.2" height="7.2" fill="#0000ff"/>
<rect x="70.8" y="335.8" width="7.2" height="7.2" fill="#0000ff"/>
<rect x="86.4" y="354.7" width="7.2" height="7.2" fill="#0000ff"/>
<rect x="102.6" y="377.7" width="7.2" height="7.2" fill="#0000ff"/>
<rect x="118.9" y="399.1" width="7.2" height="7.2" fill="#0000ff"/>
<rect x="134.6" y="419.1" width="7.2" height="7.2" fill="#0000ff"/>
<rect x="150.6" y="438.1" width="7.2" height="7.2" fill="#0000ff"/>
<rect x="166.8" y="454.1" width="7.2" height="7.2" fill="#0000ff"/>
<rect x="182.9" y="467" width="7.2" height="7.2" fill="#0000ff"/>
<rect x="198.9" y="473" width="7.2" height="7.2" fill="#0000ff"/>
<rect x="214.7" y="471.2" width="7.2" height="7.2" fill="#0000ff"/>
<rect x="231.2" y="452.3" width="7.2" height="7.2" fill="#0000ff"/>
<rect x="247.1" y="402.7" width="7.2" height="7.2" fill="#0000ff"/>
<rect x="263" y="365.4" width="7.2" height="7.2" fill="#0000ff"/>
<rect x="278.9" y="365.4" width="7.2" height="7.2" fill="#0000ff"/>
<rect x="294.8" y="365.8" width="7.2" height="7.2" fill="#0000ff"/>
<rect x="310.5" y="365.1" width="7.2" height="7.2" fill="#0000ff"/>
<rect x="326.7" y="366.1" width="7.2" height="7.2" fill="#0000ff"/>
<rect x="342.7" y="366.1" width="7.2" height="7.2" fill="#0000ff"/>
<rect x="358.8" y="364.9" width="7.2" height="7.2" fill="#0000ff"/>
<rect x="375.2" y="365.4" width="7.2" height="7.2" fill="#0000ff"/>
</g>
<path d="M56.7 317.1L182.6 479.1" stroke="#ff0000" stroke-width="1.3"/>
<path d="M147.6 381.6L116.9 340.3" stroke="#33ff33" stroke-width="1.55" stroke-dasharray="4.8 4.4" fill="none"/><path d="M111.9 333.6L118.6 338.9L115.1 341.6Z" fill="#33ff33"/>
<path d="M85 375.3L122.4 425.6" stroke="#33ff33" stroke-width="1.55" stroke-dasharray="4.8 4.4" fill="none"/><path d="M127.4 432.3L120.7 427L124.2 424.3Z" fill="#33ff33"/>
<path d="M207.4 396.6L207.4 431.9" stroke="#33ff33" stroke-width="1.4"/><path d="M207.4 440.4L209.9 431.9L204.9 431.9Z" fill="#33ff33"/>
<path d="M151.8 473.7L151.8 460.5" stroke="#33ff33" stroke-width="1.4"/><path d="M151.8 452L154.3 460.5L149.3 460.5Z" fill="#33ff33"/>
<path d="M265.8 427.7L265.8 391.7" stroke="#33ff33" stroke-width="1.4"/><path d="M265.8 383.2L268.3 391.7L263.3 391.7Z" fill="#33ff33"/>
<text transform="translate(53.24,21.04) scale(1.009,0.997)" font-size="15.5" text-anchor="end">0.0</text>
<text transform="translate(52.54,85.60) scale(1.010,0.998)" font-size="15.5" text-anchor="end">-0.<tspan class="g1">1</tspan></text>
<text transform="translate(51.85,151.49) scale(0.980,1.011)" font-size="15.5" text-anchor="end">-0.2</text>
<text transform="translate(52.29,216.03) scale(0.988,0.982)" font-size="15.5" text-anchor="end">-0.3</text>
<text transform="translate(138.19,229.92) scale(0.989,1.010)" font-size="15.5" text-anchor="middle">0.6</text>
<text transform="translate(200.18,254.11) scale(1.038,1.084)" font-size="15.5" text-anchor="start"><tspan font-style="italic">T</tspan> (K)</text>
<text transform="translate(11.86,113.21) rotate(-90) scale(0.957,1.000)" font-size="17" text-anchor="middle"><tspan font-style="italic">M</tspan> (emu/g)</text>
<text transform="translate(260.89,94.90) scale(1.057,1.002)" font-size="15.5" text-anchor="start">&#946;-IrSn<tspan font-size="10" dy="6.8">4</tspan></text>
<text transform="translate(262.33,115.51) scale(0.992,0.970)" font-size="13.5" text-anchor="start"><tspan font-style="italic"><tspan font-size="12.15" dy="0.68">&#956;</tspan><tspan font-size="9.45" dx="0.30" dy="5.40">0</tspan><tspan dy="-6.08">H</tspan></tspan> (mT)</text>
<text transform="translate(300.44,141.92) scale(0.953,0.966)" font-size="18" text-anchor="start"><tspan class="g1">1</tspan>.5</text>
<text transform="translate(299.77,163.87) scale(1.032,0.957)" font-size="18" text-anchor="start">2</text>
<text transform="translate(299.67,184.74) scale(1.016,0.925)" font-size="18" text-anchor="start">3</text>
<text transform="translate(299.72,205.91) scale(1.028,0.890)" font-size="18" text-anchor="start">5</text>
<text transform="translate(353.20,194.95) scale(0.916,0.926)" font-size="19.5" text-anchor="start">a</text>
<text transform="translate(53.60,295.51) scale(0.973,0.973)" font-size="15.5" text-anchor="end">0.2</text>
<text transform="translate(52.67,488.59) scale(0.981,1.013)" font-size="15.5" text-anchor="end">-0.3</text>
<text transform="translate(58.05,500.49) scale(1.049,0.969)" font-size="16" text-anchor="middle">0</text>
<text transform="translate(377.14,500.55) scale(0.959,0.949)" font-size="16" text-anchor="middle"><tspan class="g1">1</tspan>0</text>
<text transform="translate(186.97,522.82) scale(0.981,0.990)" font-size="16" text-anchor="start"><tspan font-style="italic"><tspan font-size="14.40" dy="0.80">&#956;</tspan><tspan font-size="10.24" dx="0.35" dy="5.60">0</tspan><tspan dy="-6.40">H</tspan></tspan> (mT)</text>
<text transform="translate(16.41,381.97) rotate(-90) scale(0.945,0.973)" font-size="17" text-anchor="middle"><tspan font-style="italic">M</tspan> (emu/g)</text>
<text transform="translate(169.02,307.49) scale(0.995,1.003)" font-size="16" text-anchor="start">&#946;-IrSn<tspan font-size="10" dy="6.8">4</tspan></text>
<text transform="translate(168.95,334.48) scale(1.008,1.026)" font-size="16.5" text-anchor="start"><tspan font-style="italic">T</tspan> = 0.5 K</text>
<text transform="translate(189.81,381.05) scale(0.990,1.072)" font-size="17" text-anchor="start"><tspan font-style="italic"><tspan font-size="15.30" dy="0.85">&#956;</tspan><tspan font-size="10.88" dx="0.37" dy="5.95">0</tspan><tspan dy="-6.80">H</tspan><tspan font-size="10.88" dy="6.80">c</tspan></tspan></text>
<text transform="translate(107.69,473.29) scale(0.959,1.009)" font-size="17" text-anchor="start"><tspan font-style="italic"><tspan font-size="15.30" dy="0.85">&#956;</tspan><tspan font-size="10.88" dx="0.37" dy="5.95">0</tspan><tspan dy="-6.80">H</tspan><tspan font-size="10.88" dy="6.80">c<tspan class="g1">1</tspan></tspan></tspan></text>
<text transform="translate(274.12,425.11) scale(0.989,1.045)" font-size="17" text-anchor="start"><tspan font-style="italic"><tspan font-size="15.30" dy="0.85">&#956;</tspan><tspan font-size="10.88" dx="0.37" dy="5.95">0</tspan><tspan dy="-6.80">H</tspan><tspan font-size="10.88" dy="6.80">c2</tspan></tspan></text>
<text transform="translate(347.80,461.78) scale(1.045,0.931)" font-size="18" text-anchor="start">b</text>
<text transform="translate(58.56,229.92) scale(0.989,1.010)" font-size="15.5" text-anchor="middle">0.4</text>
<text transform="translate(217.81,229.92) scale(0.989,1.010)" font-size="15.5" text-anchor="middle">0.8</text>
<text transform="translate(297.44,229.92) scale(0.989,1.010)" font-size="15.5" text-anchor="middle"><tspan class="g1">1</tspan>.0</text>
<text transform="translate(377.06,229.92) scale(0.989,1.010)" font-size="15.5" text-anchor="middle"><tspan class="g1">1</tspan>.2</text>
<text transform="translate(53.60,333.95) scale(0.973,0.973)" font-size="15.5" text-anchor="end">0.<tspan class="g1">1</tspan></text>
<text transform="translate(53.60,372.39) scale(0.973,0.973)" font-size="15.5" text-anchor="end">0.0</text>
<text transform="translate(52.67,450.15) scale(0.981,1.013)" font-size="15.5" text-anchor="end">-0.2</text>
<text transform="translate(52.67,411.71) scale(0.981,1.013)" font-size="15.5" text-anchor="end">-0.<tspan class="g1">1</tspan></text>
<text transform="translate(121.75,500.49) scale(1.050,0.969)" font-size="16" text-anchor="middle">2</text>
<text transform="translate(185.45,500.49) scale(1.050,0.969)" font-size="16" text-anchor="middle">4</text>
<text transform="translate(249.15,500.49) scale(1.050,0.969)" font-size="16" text-anchor="middle">6</text>
<text transform="translate(312.85,500.49) scale(1.050,0.969)" font-size="16" text-anchor="middle">8</text>
<path transform="matrix(0.00764 0.00000 0.00000 -0.00755 43.82875 85.60000)" d="M763 0L583 0L583 1102C540 1062 484 1022 413 982C343 942 280 912 223 894L223 1061C321 1107 407 1163 480 1228C553 1293 604 1354 632 1409L763 1409Z" fill="#000" stroke="#000" stroke-width="59.2" stroke-linejoin="round"/>
<path transform="matrix(0.00838 0.00000 0.00000 -0.00849 300.44000 141.92000)" d="M763 0L583 0L583 1102C540 1062 484 1022 413 982C343 942 280 912 223 894L223 1061C321 1107 407 1163 480 1228C553 1293 604 1354 632 1409L763 1409Z" fill="#000" stroke="#000" stroke-width="53.4" stroke-linejoin="round"/>
<path transform="matrix(0.00749 0.00000 0.00000 -0.00741 368.59892 500.54999)" d="M763 0L583 0L583 1102C540 1062 484 1022 413 982C343 942 280 912 223 894L223 1061C321 1107 407 1163 480 1228C553 1293 604 1354 632 1409L763 1409Z" fill="#000" stroke="#000" stroke-width="60.4" stroke-linejoin="round"/>
<path transform="matrix(0.00509 0.00000 0.00108 -0.00536 138.89766 480.15121)" d="M763 0L583 0L583 1102C540 1062 484 1022 413 982C343 942 280 912 223 894L223 1061C321 1107 407 1163 480 1228C553 1293 604 1354 632 1409L763 1409Z" fill="#000" stroke="#000" stroke-width="86.1" stroke-linejoin="round"/>
<path transform="matrix(0.00749 0.00000 0.00000 -0.00764 286.77735 229.92000)" d="M763 0L583 0L583 1102C540 1062 484 1022 413 982C343 942 280 912 223 894L223 1061C321 1107 407 1163 480 1228C553 1293 604 1354 632 1409L763 1409Z" fill="#000" stroke="#000" stroke-width="59.5" stroke-linejoin="round"/>
<path transform="matrix(0.00749 0.00000 0.00000 -0.00764 366.39734 229.92000)" d="M763 0L583 0L583 1102C540 1062 484 1022 413 982C343 942 280 912 223 894L223 1061C321 1107 407 1163 480 1228C553 1293 604 1354 632 1409L763 1409Z" fill="#000" stroke="#000" stroke-width="59.5" stroke-linejoin="round"/>
<path transform="matrix(0.00736 0.00000 0.00000 -0.00736 45.20787 333.95001)" d="M763 0L583 0L583 1102C540 1062 484 1022 413 982C343 942 280 912 223 894L223 1061C321 1107 407 1163 480 1228C553 1293 604 1354 632 1409L763 1409Z" fill="#000" stroke="#000" stroke-width="61.1" stroke-linejoin="round"/>
<path transform="matrix(0.00742 0.00000 0.00000 -0.00767 44.20887 411.70999)" d="M763 0L583 0L583 1102C540 1062 484 1022 413 982C343 942 280 912 223 894L223 1061C321 1107 407 1163 480 1228C553 1293 604 1354 632 1409L763 1409Z" fill="#000" stroke="#000" stroke-width="59.6" stroke-linejoin="round"/>
</svg>
</body></html>
